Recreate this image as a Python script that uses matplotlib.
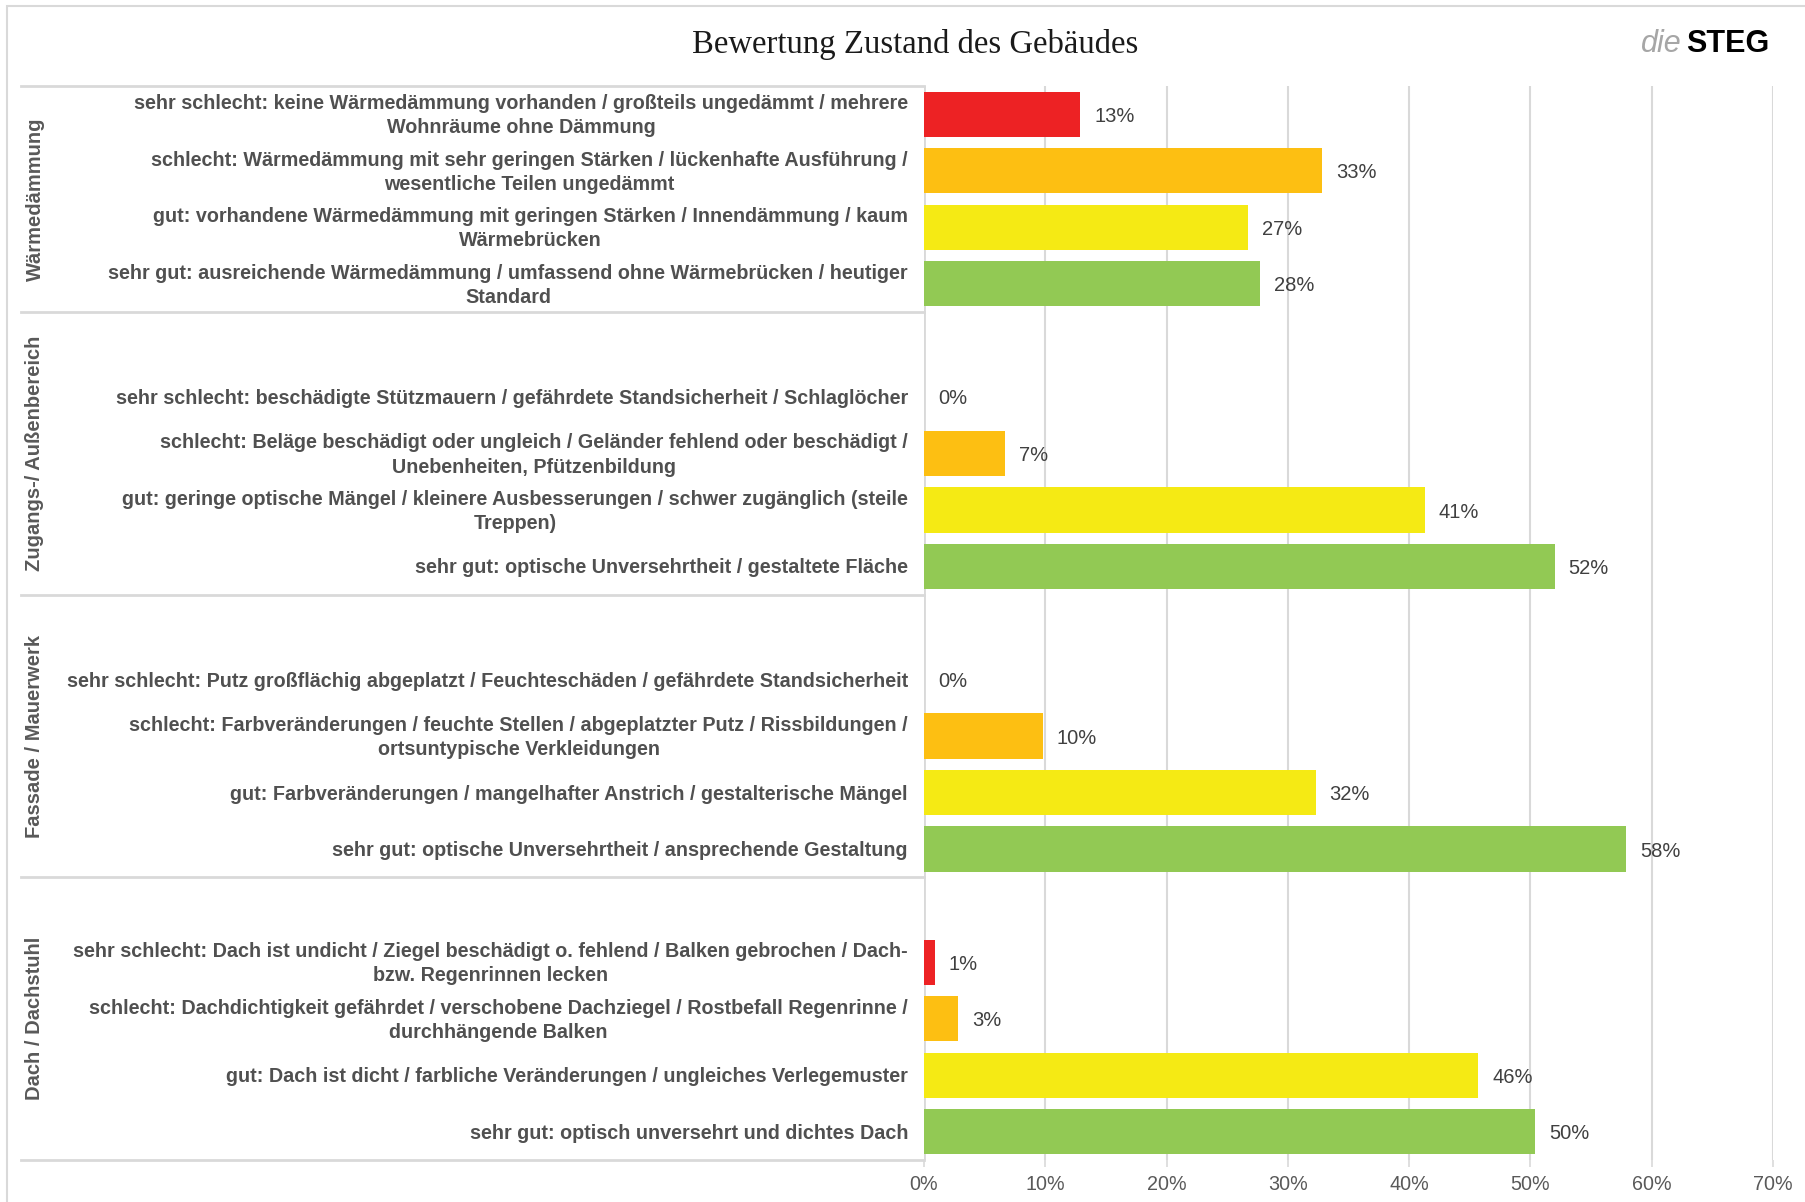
import matplotlib.pyplot as plt
import matplotlib.transforms as mtransforms
from matplotlib.patches import Rectangle

groups = ["Wärmedämmung", "Zugangs-/ Außenbereich", "Fassade / Mauerwerk", "Dach / Dachstuhl"]

labels_waerme = [
    "sehr schlecht: keine Wärmedämmung vorhanden / großteils ungedämmt / mehrere\nWohnräume ohne Dämmung",
    "schlecht: Wärmedämmung mit sehr geringen Stärken / lückenhafte Ausführung /\nwesentliche Teilen ungedämmt",
    "gut: vorhandene Wärmedämmung mit geringen Stärken / Innendämmung / kaum\nWärmebrücken",
    "sehr gut: ausreichende Wärmedämmung / umfassend ohne Wärmebrücken / heutiger\nStandard",
]
labels_zugang = [
    "sehr schlecht: beschädigte Stützmauern / gefährdete Standsicherheit / Schlaglöcher",
    "schlecht: Beläge beschädigt oder ungleich / Geländer fehlend oder beschädigt /\nUnebenheiten, Pfützenbildung",
    "gut: geringe optische Mängel / kleinere Ausbesserungen / schwer zugänglich (steile\nTreppen)",
    "sehr gut: optische Unversehrtheit / gestaltete Fläche",
]
labels_fassade = [
    "sehr schlecht: Putz großflächig abgeplatzt / Feuchteschäden / gefährdete Standsicherheit",
    "schlecht: Farbveränderungen / feuchte Stellen / abgeplatzter Putz / Rissbildungen /\nortsuntypische Verkleidungen",
    "gut: Farbveränderungen / mangelhafter Anstrich / gestalterische Mängel",
    "sehr gut: optische Unversehrtheit / ansprechende Gestaltung",
]
labels_dach = [
    "sehr schlecht: Dach ist undicht / Ziegel beschädigt o. fehlend / Balken gebrochen / Dach-\nbzw. Regenrinnen lecken",
    "schlecht: Dachdichtigkeit gefährdet / verschobene Dachziegel / Rostbefall Regenrinne /\ndurchhängende Balken",
    "gut: Dach ist dicht / farbliche Veränderungen / ungleiches Verlegemuster",
    "sehr gut: optisch unversehrt und dichtes Dach",
]

# Anteile in %
vals_waerme = [12.9, 32.8, 26.7, 27.7]
vals_zugang = [0.0, 6.7, 41.3, 52.0]
vals_fassade = [0.0, 9.8, 32.3, 57.9]
vals_dach = [0.9, 2.8, 45.7, 50.4]

xticks = [0, 10, 20, 30, 40, 50, 60, 70]
colors = ["#ED2224", "#FDBF12", "#F5EA14", "#92C954"]

all_labels = [labels_waerme, labels_zugang, labels_fassade, labels_dach]
all_vals = [vals_waerme, vals_zugang, vals_fassade, vals_dach]

W, H = 1805, 1202
fig = plt.figure(figsize=(W / 100, H / 100), dpi=100)
ax = fig.add_axes([924 / W, 1 - 1160 / H, (1773 - 924) / W, (1160 - 86) / H])

# outer frame
fig.patches.append(Rectangle((7 / W, -0.05), 1.1, 1 - 6 / H + 0.05, transform=fig.transFigure,
                             fill=False, edgecolor="#d9d9d9", linewidth=1.5))

trans = mtransforms.blended_transform_factory(fig.transFigure, ax.transData)
# small downward nudge for the row labels
lab_trans = trans + mtransforms.ScaledTranslation(0, -1.5 / 100, fig.dpi_scale_trans)

# slot layout: group 1 has 4 rows, the others have one empty row on top
pos = 0
seps = [-0.5]
for gi, (labs, vals) in enumerate(zip(all_labels, all_vals)):
    start = pos
    if gi > 0:
        pos += 1
    ys = list(range(pos, pos + len(vals)))
    ax.barh(ys, vals, height=0.8, color=colors, zorder=3)
    for y, v, lab in zip(ys, vals, labs):
        ax.annotate(f"{v:.0f}%", (v, y), xytext=(10, -1.5), textcoords="offset points",
                    ha="left", va="center", fontsize=14.5, color="#404040",
                    family="Liberation Sans")
        ax.text(908 / W, y, lab, transform=lab_trans, ha="right", va="center",
                multialignment="center", fontsize=14.2, fontweight="bold",
                color="#505050", family="Liberation Sans", linespacing=1.35)
    pos += len(vals)
    seps.append(pos - 0.5)
    ax.text(35 / W, (start - 0.5 + pos - 0.5) / 2, groups[gi], transform=trans,
            rotation=90, ha="center", va="center", fontsize=14.5, fontweight="bold",
            color="#595959", family="Liberation Sans")

for s in seps:
    ax.plot([21 / W, 924 / W], [s, s], transform=trans, color="#d9d9d9",
            linewidth=2, clip_on=False, zorder=1)

ax.set_ylim(pos - 0.5, -0.5)
ax.set_xlim(0, 70)
ax.set_yticks([])
ax.set_xticks(xticks)
ax.set_xticklabels([f"{t}%" for t in xticks], fontsize=14.2, color="#595959",
                   family="Liberation Sans")
ax.tick_params(axis="x", length=5, color="#d9d9d9", width=1.2, pad=5.5)
ax.grid(axis="x", color="#d9d9d9", linewidth=1.5, zorder=0)
ax.set_axisbelow(True)
for sp in ax.spines.values():
    sp.set_visible(False)
ax.axvline(0, color="#d9d9d9", linewidth=2, zorder=1)

fig.text(915 / W, 1 - 45 / H, "Bewertung Zustand des Gebäudes", ha="center", va="center",
         fontsize=23.6, family="Liberation Serif", color="#1a1a1a")
fig.text(1682 / W, 1 - 44 / H, "die", ha="right", va="center", fontsize=22,
         style="italic", color="#a6a6a6", family="Liberation Sans")
fig.text(1686 / W, 1 - 44 / H, "STEG", ha="left", va="center", fontsize=22,
         fontweight="bold", color="black", family="Liberation Sans")

fig.savefig("out.png", dpi=100, facecolor="white")
